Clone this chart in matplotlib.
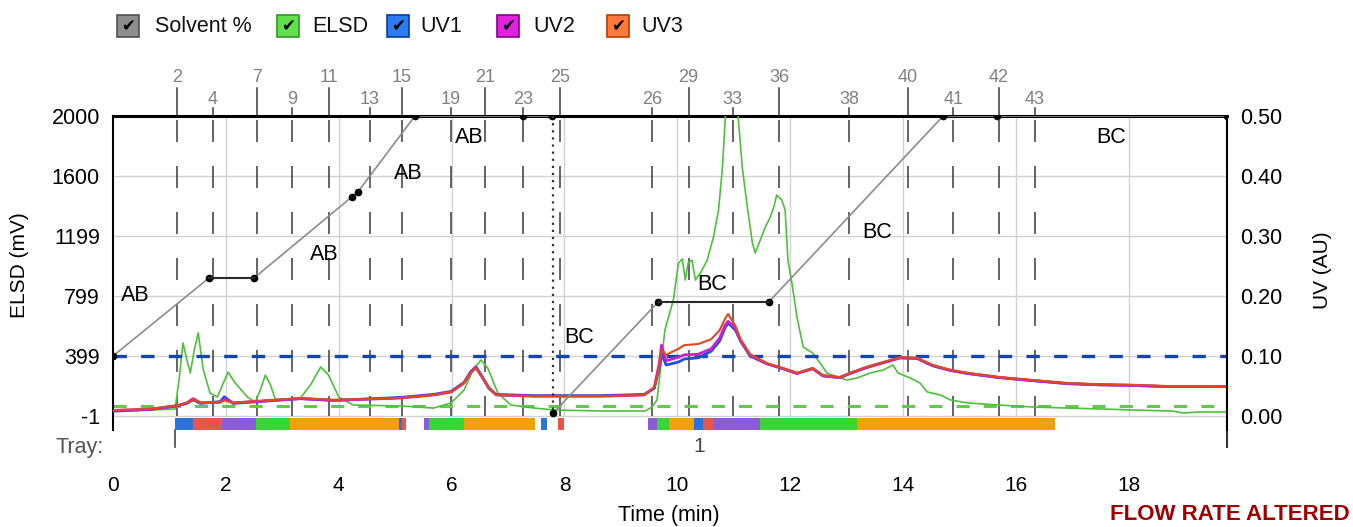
import matplotlib.pyplot as plt
from matplotlib.patches import Rectangle

plt.rcParams['font.family'] = ['Liberation Sans', 'DejaVu Sans']

# ELSD trace (minutes, mV)
elsd_t = [0.00, 0.66, 1.10, 1.17, 1.24, 1.31, 1.37, 1.44, 1.51, 1.60, 1.72, 1.85, 1.94, 2.04, 2.15,
          2.38, 2.52, 2.61, 2.70, 2.79, 2.88, 3.14, 3.32, 3.50, 3.68, 3.82, 4.00, 4.26, 5.10, 5.68,
          5.99, 6.22, 6.38, 6.52, 6.64, 6.82, 7.05, 7.46, 7.82, 8.65, 9.43, 9.55, 9.64, 9.71, 9.78,
          9.93, 10.02, 10.09, 10.14, 10.19, 10.26, 10.32, 10.41, 10.53, 10.64, 10.73, 10.80, 10.85,
          10.90, 11.03, 11.08, 11.15, 11.24, 11.33, 11.38, 11.47, 11.56, 11.64, 11.71, 11.76, 11.85,
          11.91, 11.96, 12.03, 12.12, 12.23, 12.40, 12.53, 12.65, 12.83, 13.01, 13.18, 13.42, 13.65,
          13.82, 13.91, 14.13, 14.30, 14.43, 14.66, 14.84, 15.14, 15.71, 16.30, 16.91, 17.49, 18.07,
          18.78, 18.96, 19.26, 19.74]
elsd_v = [39, 39, 46, 239, 486, 373, 286, 439, 553, 306, 152, 126, 206, 292, 226,
          126, 92, 172, 272, 206, 106, 106, 119, 206, 326, 272, 126, 72, 66, 52,
          86, 172, 306, 373, 319, 152, 72, 52, 39, 32, 32, 59, 106, 339, 573,
          773, 1019, 1046, 906, 1019, 1039, 906, 953, 1039, 1193, 1373, 1660, 1987,
          2374, 2374, 1987, 1660, 1393, 1153, 1086, 1173, 1260, 1320, 1393, 1473, 1440,
          1373, 1039, 886, 659, 459, 419, 352, 286, 259, 239, 252, 286, 306,
          339, 286, 252, 219, 159, 139, 106, 86, 72, 59, 52, 46, 39,
          32, 19, 26, 26]

# UV traces (minutes, AU)
uv_t = [0.00, 0.66, 1.14, 1.31, 1.42, 1.55, 1.90, 1.97, 2.13, 3.32,
        3.91, 5.10, 5.68, 5.99, 6.22, 6.34, 6.43, 6.52, 6.66, 6.79,
        7.46, 8.65, 9.41, 9.59, 9.68, 9.72, 9.80, 10.02, 10.12, 10.37,
        10.60, 10.75, 10.85, 10.90, 11.03, 11.12, 11.29, 11.59, 11.87, 12.12,
        12.40, 12.58, 12.88, 13.06, 13.36, 13.65, 13.95, 14.25, 14.52, 14.84,
        15.14, 15.71, 16.30, 16.91, 17.49, 18.07, 18.68, 19.74]
uv1 = [0.008, 0.011, 0.017, 0.021, 0.027, 0.021, 0.024, 0.032, 0.021, 0.029,
       0.026, 0.031, 0.036, 0.041, 0.056, 0.074, 0.082, 0.069, 0.046, 0.036,
       0.034, 0.034, 0.036, 0.046, 0.080, 0.105, 0.085, 0.090, 0.095, 0.097,
       0.108, 0.125, 0.148, 0.155, 0.143, 0.125, 0.100, 0.087, 0.079, 0.071,
       0.079, 0.067, 0.064, 0.071, 0.081, 0.089, 0.097, 0.096, 0.084, 0.076,
       0.071, 0.064, 0.059, 0.054, 0.052, 0.051, 0.049, 0.049]
uv2 = [0.009, 0.011, 0.017, 0.022, 0.029, 0.022, 0.023, 0.028, 0.022, 0.029,
       0.026, 0.030, 0.035, 0.040, 0.055, 0.073, 0.081, 0.068, 0.047, 0.035,
       0.033, 0.033, 0.035, 0.047, 0.088, 0.118, 0.092, 0.098, 0.102, 0.103,
       0.112, 0.130, 0.152, 0.158, 0.146, 0.126, 0.101, 0.087, 0.079, 0.071,
       0.079, 0.067, 0.064, 0.071, 0.081, 0.089, 0.097, 0.096, 0.084, 0.076,
       0.071, 0.064, 0.059, 0.054, 0.052, 0.051, 0.049, 0.049]
uv3 = [0.010, 0.012, 0.018, 0.022, 0.028, 0.022, 0.023, 0.026, 0.022, 0.030,
       0.027, 0.030, 0.035, 0.040, 0.055, 0.072, 0.080, 0.068, 0.047, 0.035,
       0.033, 0.033, 0.035, 0.048, 0.082, 0.110, 0.102, 0.112, 0.118, 0.120,
       0.128, 0.143, 0.163, 0.170, 0.150, 0.128, 0.103, 0.088, 0.080, 0.072,
       0.080, 0.068, 0.065, 0.072, 0.082, 0.090, 0.098, 0.097, 0.085, 0.077,
       0.072, 0.065, 0.060, 0.055, 0.053, 0.052, 0.050, 0.050]

# solvent gradient (minutes, %)
sol_ab_t = [0.00, 1.70, 2.50, 4.23, 4.34, 5.35, 7.26, 7.78]
sol_ab_v = [20, 46, 46, 73, 74.7, 100, 100, 100]
sol_bc_t = [7.80, 9.66, 11.62, 14.71, 15.66, 19.74]
sol_bc_v = [1, 38, 38, 100, 100, 100]
hold_t = [(1.70, 2.50), (9.66, 11.62)]
hold_v = [46, 38]

# solvent labels
seg_text = ['AB', 'AB', 'AB', 'AB', 'BC', 'BC', 'BC', 'BC']
seg_t = [0.39, 3.75, 5.24, 6.31, 8.26, 10.62, 13.54, 17.69]
seg_v = [40.3, 53.7, 80.7, 92.7, 26.3, 43.7, 61.3, 92.7]

# fractions
frac_num = [2, 4, 7, 9, 11, 13, 15, 19, 21, 23, 25, 26, 29, 33, 36, 38, 40, 41, 42, 43]
frac_t = [1.13, 1.77, 2.55, 3.17, 3.83, 4.55, 5.12, 5.99, 6.59, 7.26, 7.92,
          9.55, 10.20, 10.98, 11.80, 13.04, 14.09, 14.89, 15.70, 16.33]

# tray bar
tray_start = [1.10, 1.42, 1.93, 2.53, 3.14, 5.07, 5.12, 5.51, 5.60, 6.22, 7.58, 7.88,
              9.48, 9.64, 9.85, 10.29, 10.45, 10.63, 11.46, 13.18]
tray_end = [1.42, 1.93, 2.53, 3.14, 5.07, 5.12, 5.19, 5.60, 6.22, 7.48, 7.69, 7.99,
            9.64, 9.85, 10.29, 10.45, 10.63, 11.46, 13.18, 16.69]
tray_kind = ['b', 'r', 'p', 'g', 'o', 'b', 'r', 'p', 'g', 'o', 'b', 'r',
             'p', 'g', 'o', 'b', 'r', 'p', 'g', 'o']
tray_colors = {'b': '#2b72dc', 'r': '#e8564a', 'p': '#8a5cd8', 'g': '#38d438', 'o': '#f2a200'}

elsd_ticks = [-1, 399, 799, 1199, 1600, 2000]
uv_ticks = [0.0, 0.1, 0.2, 0.3, 0.4, 0.5]

W, H = 1353, 527


def fx(px):
    return px / W


def fy(py):
    return 1 - py / H


def ay(py):
    # pixel row -> axes fraction (axes spans rows 116..430)
    return (430 - py) / 314


fig = plt.figure(figsize=(W / 100, H / 100), dpi=100)
ax = fig.add_axes([fx(113), fy(430), fx(1227) - fx(113), fy(116) - fy(430)])
ax_uv = ax.twinx()
ax_sol = ax.twinx()

for a in (ax, ax_uv, ax_sol):
    a.set_xlim(0, 19.74)
    for s in a.spines.values():
        s.set_visible(False)
ax.set_ylim(-94.4, 2000)
ax_uv.set_ylim(-0.0233, 0.5)
ax_sol.set_ylim(-4.67, 100)

ax.spines['left'].set_visible(True)
ax.spines['left'].set_linewidth(1.5)
ax.spines['top'].set_visible(True)
ax.spines['top'].set_linewidth(2.2)
ax_uv.spines['right'].set_visible(True)
ax_uv.spines['right'].set_linewidth(1.5)
ax.plot([1, 1], [0, ay(447)], transform=ax.transAxes, color='#333333', lw=1.5, clip_on=False)

# grid
for v in elsd_ticks[:-1]:
    ax.axhline(v, color='#d2d2d2', lw=1, zorder=0)
for t in range(2, 19, 2):
    ax.axvline(t, ymin=ay(416), color='#d2d2d2', lw=1, zorder=0)

# fraction markers
xt = ax.get_xaxis_transform()
for i, (n, t) in enumerate(zip(frac_num, frac_t)):
    top = 88 if i % 2 == 0 else 108
    lab = 78 if i % 2 == 0 else 100
    ax.plot([t, t], [ay(top), ay(116)], transform=xt, color='#3a3a3a', lw=1.1, clip_on=False)
    ax.plot([t, t], [ay(120), ay(416)], transform=xt, color='#3a3a3a', lw=1.1,
            linestyle=(0, (14.4, 15.7)), zorder=1)
    ax.text(t, ay(lab), str(n), transform=xt, ha='center', va='center',
            fontsize=13, color='#858080')

# thresholds
ax.axhline(65, color='#62c94a', lw=2.2, linestyle=(0, (4.3, 4.6)), zorder=2)
ax_uv.axhline(0.10, color='#1446b0', lw=2.4, linestyle=(0, (4.0, 4.3)), zorder=2)

# tray bars
ax.broken_barh([(s, e - s) for s, e in zip(tray_start, tray_end)], (-94.4, 80),
               facecolors=[tray_colors[k] for k in tray_kind], zorder=3)
ax.plot([1.10, 1.10], [0, ay(447)], transform=xt, color='#444444', lw=1.2, clip_on=False)
ax.text(10.38, ay(447), '1', transform=xt, ha='center', va='center', fontsize=15, color='#444444')
fig.text(fx(104), fy(447), 'Tray:', ha='right', va='center', fontsize=15.5, color='#555555')

# traces
ax.plot(elsd_t, elsd_v, color='#4cc23a', lw=1.2, zorder=4)
ax_uv.plot(uv_t, uv1, color='#1f4fe0', lw=2.0)
ax_uv.plot(uv_t, uv2, color='#cc22cc', lw=2.0)
ax_uv.plot(uv_t, uv3, color='#e0481e', lw=1.5)

# solvent gradient
ax_sol.plot(sol_ab_t, sol_ab_v, color='#8c8c8c', lw=1.2, marker='o', ms=4.5,
            mfc='black', mec='black')
ax_sol.plot(sol_bc_t, sol_bc_v, color='#8c8c8c', lw=1.2, marker='o', ms=4.5,
            mfc='black', mec='black')
for (t0, t1), v in zip(hold_t, hold_v):
    ax_sol.plot([t0, t1], [v, v], color='#2a2a2a', lw=1.5)
ax_sol.plot([sol_ab_t[-1] + 0.02, sol_bc_t[0]], [sol_ab_v[-1], sol_bc_v[0]],
            color='#333333', lw=1.6, linestyle=(0, (1, 2.2)))
for txt, t, v in zip(seg_text, seg_t, seg_v):
    ax_sol.text(t, v, txt, ha='center', va='center', fontsize=15.5, color='black')

# ticks
ax.set_xticks(range(0, 19, 2))
ax.tick_params(axis='x', length=0, pad=33, labelsize=15)
ax.set_yticks(elsd_ticks, labels=[str(v) for v in elsd_ticks])
ax.tick_params(axis='y', length=0, pad=9.4, labelsize=15.5)
ax_uv.set_yticks(uv_ticks, labels=['%.2f' % v for v in uv_ticks])
ax_uv.tick_params(axis='y', length=0, pad=9.4, labelsize=15.5)
ax_sol.set_yticks([])

# axis titles
fig.text(fx(20), fy(265), 'ELSD (mV)', rotation=90, ha='center', va='center', fontsize=15)
fig.text(fx(1322), fy(270), 'UV (AU)', rotation=90, ha='center', va='center', fontsize=15)
fig.text(fx(669), fy(515), 'Time (min)', ha='center', va='center', fontsize=15.5)
fig.text(fx(1350), fy(515), 'FLOW RATE ALTERED', ha='right', va='center', fontsize=16,
         fontweight='bold', color='#a00000')

# legend
legend_items = [('Solvent %', '#8e8e8e', '#505050', 117, 155),
                ('ELSD', '#62e04c', '#2f9a22', 277, 312),
                ('UV1', '#2a7cf0', '#0a3c9c', 387, 420),
                ('UV2', '#e022e0', '#8a008a', 497, 533),
                ('UV3', '#ff7a3a', '#b83c00', 607, 641)]
for label, fc, ec, bx, tx in legend_items:
    fig.patches.append(Rectangle((fx(bx), fy(37)), fx(22), 22 / H, transform=fig.transFigure,
                                 facecolor=fc, edgecolor=ec, lw=1.2))
    fig.text(fx(bx + 11), fy(26), '\u2714', ha='center', va='center', fontsize=12,
             color='black', family='DejaVu Sans')
    fig.text(fx(tx), fy(26), label, ha='left', va='center', fontsize=15.5, color='#111111')

fig.savefig('out.png', dpi=100)
